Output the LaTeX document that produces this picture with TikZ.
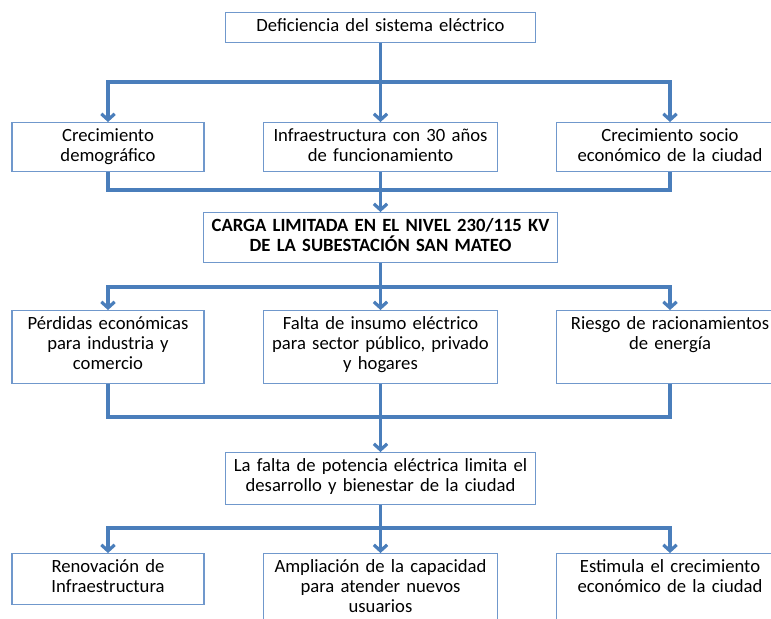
\documentclass[tikz,border=0pt]{standalone}
\usepackage{fontspec}
\setmainfont{Carlito}
\usetikzlibrary{arrows.meta}

\definecolor{linkblue}{RGB}{74,126,187}
\definecolor{boxline}{RGB}{112,152,204}

\tikzset{
    cell/.style={draw=boxline, line width=0.8pt, fill=white, anchor=north,
        align=center, inner xsep=2pt, inner ysep=4.25pt, text height=10pt,
        font=\fontsize{14pt}{15pt}\selectfont},
    link/.style={draw=linkblue, line width=2.4pt},
    arr/.style={link, -{Straight Barb[length=4.5pt,width=10pt]}}
}

\begin{document}
\begin{tikzpicture}[x=0.75pt, y=-0.75pt]
        \useasboundingbox (0,0) rectangle (771,618);
        \clip (0,0) rectangle (771,618);

        \coordinate (j1) at (380.5, 82);
        \coordinate (j2) at (380.5, 190);
        \coordinate (j3) at (380.5, 287);
        \coordinate (j4) at (380.5, 417);
        \coordinate (j5) at (380.5, 528);

        \node[cell, text width=229pt, text depth=4pt] (def) at (380.5, 12)
            {Deficiencia del sistema eléctrico};

        \node[cell, text width=140pt, text depth=18.25pt] (c1) at (108, 122)
            {Crecimiento\\demográfico};
        \node[cell, text width=172pt, text depth=18.25pt] (c2) at (380.5, 122)
            {Infraestructura con 30 años\\de funcionamiento};
        \node[cell, text width=166pt, text depth=18.25pt] (c3) at (670, 122)
            {Crecimiento socio\\económico de la ciudad};

        \node[cell, text width=261pt, text depth=19pt, font=\fontsize{14pt}{15pt}\selectfont\bfseries] (carga) at (380.5, 212)
            {CARGA LIMITADA EN EL NIVEL 230/115 KV\\DE LA SUBESTACIÓN SAN MATEO};

        \node[cell, text width=140pt, text depth=36.25pt] (e1) at (108, 310)
            {Pérdidas económicas\\para industria y\\comercio};
        \node[cell, text width=172pt, text depth=36.25pt] (e2) at (380.5, 310)
            {Falta de insumo eléctrico\\para sector público, privado\\y hogares};
        \node[cell, text width=166pt, text depth=36.25pt] (e3) at (670, 310)
            {Riesgo de racionamientos\\de energía};

        \node[cell, text width=229pt, text depth=20.5pt] (falta) at (380.5, 452)
            {La falta de potencia eléctrica limita el\\desarrollo y bienestar de la ciudad};

        \node[cell, text width=140pt, text depth=19.75pt] (s1) at (108, 553)
            {Renovación de\\Infraestructura};
        \node[cell, text width=172pt, text depth=36.25pt] (s2) at (380.5, 553)
            {Ampliación de la capacidad\\para atender nuevos\\usuarios};
        \node[cell, text width=166pt, text depth=36.25pt] (s3) at (670, 553)
            {Estimula el crecimiento\\económico de la ciudad};

        \draw[arr] (def) -- (c2);
        \draw[arr] (j1) -| (c1);
        \draw[arr] (j1) -| (c3);
        \draw[link] (c1) |- (j2) -| (c3);
        \draw[arr] (c2) -- (carga);

        \draw[arr] (carga) -- (e2);
        \draw[arr] (j3) -| (e1);
        \draw[arr] (j3) -| (e3);
        \draw[link] (e1) |- (j4) -| (e3);
        \draw[arr] (e2) -- (falta);

        \draw[arr] (falta) -- (s2);
        \draw[arr] (j5) -| (s1);
        \draw[arr] (j5) -| (s3);
    \end{tikzpicture}
\end{document}
